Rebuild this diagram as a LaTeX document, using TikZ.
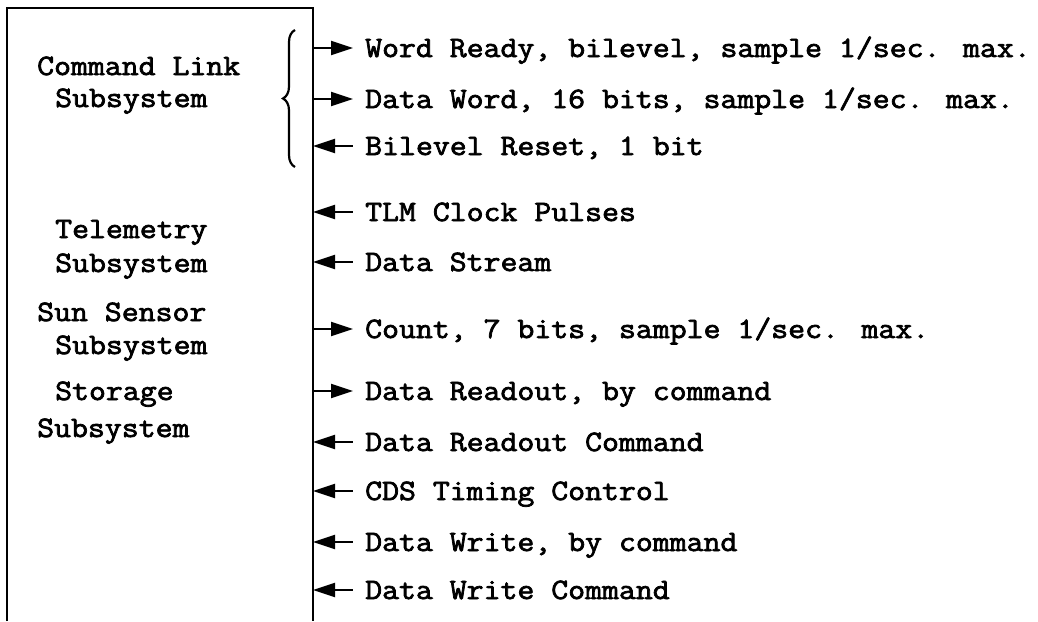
\documentclass[tikz,border=0pt]{standalone}
\usepackage{fontspec}
\newfontfamily\tw{Latin Modern Mono}[FakeBold=2.5,FakeStretch=1.11]
\usetikzlibrary{arrows.meta,decorations.pathreplacing}
\tikzset{
  frame/.style={line width=2.8pt},
  sig/.style={line width=2pt},
  outarrow/.style={sig,-{Triangle[length=22pt,width=14pt]},shorten >=12pt},
  inarrow/.style={sig,{Triangle[length=22pt,width=14pt]}-,shorten >=12pt},
  lbl/.style={font=\tw\fontsize{29.6}{32}\selectfont,inner sep=0pt,anchor=west,text height=18pt,text depth=0pt},
  sub/.style={font=\tw\fontsize{29.6}{32}\selectfont,inner sep=0pt,anchor=base west},
  bracedeco/.style={line width=2.2pt,decorate,decoration={brace,amplitude=12pt}}
}
\begin{document}
\begin{tikzpicture}[x=1pt,y=-1pt]
\useasboundingbox (0,0) rectangle (1038,621);
% box (open at the bottom)
\coordinate (bl) at (7,621);
\coordinate (tl) at (7,8);
\coordinate (tr) at (313,8);
\coordinate (br) at (313,621);
\draw[frame] (bl) -- (tl) -- (tr) -- (br);
% brace
\coordinate (brb) at (295,167);
\coordinate (brt) at (295,30);
\draw[bracedeco] (brb) -- (brt);
% left labels
\node[sub] (cl1) at (37,75) {Command Link};
\node[sub] (cl2) at (55,107) {Subsystem};
\node[sub] (tm1) at (55,238) {Telemetry};
\node[sub] (tm2) at (55,272) {Subsystem};
\node[sub] (ss1) at (37,321) {Sun Sensor};
\node[sub] (ss2) at (55,354) {Subsystem};
\node[sub] (st1) at (55,400) {Storage};
\node[sub] (st2) at (37,437) {Subsystem};
% signals
\foreach \n/\y/\t in {
  1/48/{Word Ready, bilevel, sample 1/sec. max.},
  2/99/{Data Word, 16 bits, sample 1/sec. max.},
  3/146/{Bilevel Reset, 1 bit},
  4/212/{TLM Clock Pulses},
  5/262/{Data Stream},
  6/329/{Count, 7 bits, sample 1/sec. max.},
  7/391/{Data Readout, by command},
  8/442/{Data Readout Command},
  9/491/{CDS Timing Control},
  10/542/{Data Write, by command},
  11/590/{Data Write Command}}{
  \coordinate (p\n) at (313,\y);
  \node[lbl] (t\n) at (365,\y) {\t};
}
\foreach \n in {1,2,6,7}{\draw[outarrow] (p\n) -- (t\n.west);}
\foreach \n in {3,4,5,8,9,10,11}{\draw[inarrow] (p\n) -- (t\n.west);}
\end{tikzpicture}
\end{document}
